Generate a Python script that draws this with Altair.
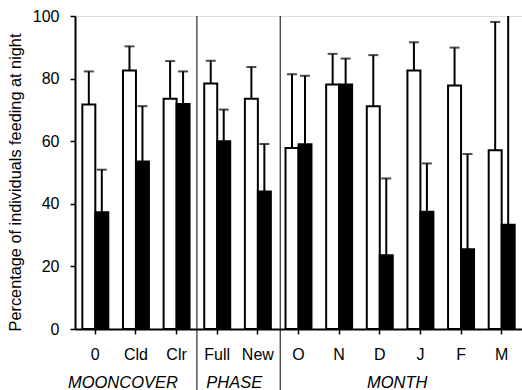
import altair as alt
import pandas as pd

categories = ["0", "Cld", "Clr", "Full", "New", "O", "N", "D", "J", "F", "M"]
series = ["open", "filled"]
open_values = [71.7, 82.6, 73.6, 78.4, 73.6, 57.8, 78.1, 71.2, 82.6, 77.8, 57.1]
open_upper = [82.3, 90.3, 85.6, 85.7, 83.7, 81.4, 87.9, 87.5, 91.6, 89.9, 98.1]
filled_values = [37.3, 53.5, 71.9, 60.0, 43.9, 59.0, 78.1, 23.6, 37.5, 25.5, 33.3]
filled_upper = [50.9, 71.2, 82.3, 70.1, 59.1, 80.9, 86.4, 48.1, 52.9, 55.9, 110.0]

group_names = ["MOONCOVER", "PHASE", "MONTH"]
group_anchor = ["Cld", "Full", "D"]
group_pos = [0.18, 0.92, 0.93]
separator_before = ["Full", "O"]
separator_pos = [0.0, 0.05]

rows = []
for i, c in enumerate(categories):
    rows.append({"cat": c, "series": "open", "value": open_values[i], "upper": open_upper[i]})
    rows.append({"cat": c, "series": "filled", "value": filled_values[i], "upper": filled_upper[i]})
df = pd.DataFrame(rows)

FONT = "Liberation Sans"
W, H = 447, 313

xscale = alt.Scale(domain=categories, paddingInner=0, paddingOuter=0)
yscale = alt.Scale(domain=[0, 100], nice=False)
xoff = alt.XOffset("series:N", sort=series,
                   scale=alt.Scale(domain=series, paddingInner=0, paddingOuter=0.565))

x_enc = alt.X("cat:N", scale=xscale, sort=categories,
              axis=alt.Axis(title=None, labelAngle=0, labelFont=FONT, labelFontSize=16,
                            labelColor="black", labelPadding=12, tickSize=5, tickWidth=1.5,
                            tickColor="black", domainColor="black", domainWidth=2))
y_enc = alt.Y("value:Q", scale=yscale,
              axis=alt.Axis(title="Percentage of individuals feeding at night",
                            values=[0, 20, 40, 60, 80, 100], grid=False,
                            labelFont=FONT, labelFontSize=16, labelColor="black",
                            labelPadding=11, tickSize=5, tickWidth=1.5, tickColor="black",
                            domainColor="black", domainWidth=2,
                            titleFont=FONT, titleFontSize=16.3, titleFontWeight="normal",
                            titleColor="black", titlePadding=9, titleY=166))

base = alt.Chart(df).encode(x=x_enc, xOffset=xoff)

bars = base.mark_bar(stroke="black", strokeWidth=2).encode(
    y=y_enc,
    color=alt.Color("series:N", scale=alt.Scale(domain=series, range=["white", "black"]), legend=None),
)
err = base.mark_rule(color="black", strokeWidth=2, clip=True).encode(
    y=alt.Y("value:Q", scale=yscale), y2="upper:Q")
caps = base.mark_tick(color="black", thickness=2, size=10, clip=True, orient="horizontal").encode(
    y=alt.Y("upper:Q", scale=yscale))

seps = []
for cat, pos in zip(separator_before, separator_pos):
    sdf = pd.DataFrame({"cat": [cat]})
    seps.append(alt.Chart(sdf).mark_rule(color="black", strokeWidth=1).encode(
        x=alt.X("cat:N", scale=xscale, bandPosition=pos),
        y=alt.value(0), y2=alt.value(H + 61)))

labels = []
for name, anchor, pos in zip(group_names, group_anchor, group_pos):
    gdf = pd.DataFrame({"cat": [anchor], "label": [name]})
    labels.append(alt.Chart(gdf).mark_text(font=FONT, fontSize=16.5, fontStyle="italic",
                                           color="black", baseline="alphabetic", align="center").encode(
        x=alt.X("cat:N", scale=xscale, bandPosition=pos),
        y=alt.value(H + 59), text="label:N"))

chart = alt.layer(bars, err, caps, *seps, *labels).properties(
    width=W, height=H,
    autosize=alt.AutoSizeParams(type="none"),
    padding={"left": 75, "top": 16, "right": 0, "bottom": 61},
).configure_view(stroke=None).configure(background="white")

chart.save("out.html", embed_options={"renderer": "svg", "actions": False})
